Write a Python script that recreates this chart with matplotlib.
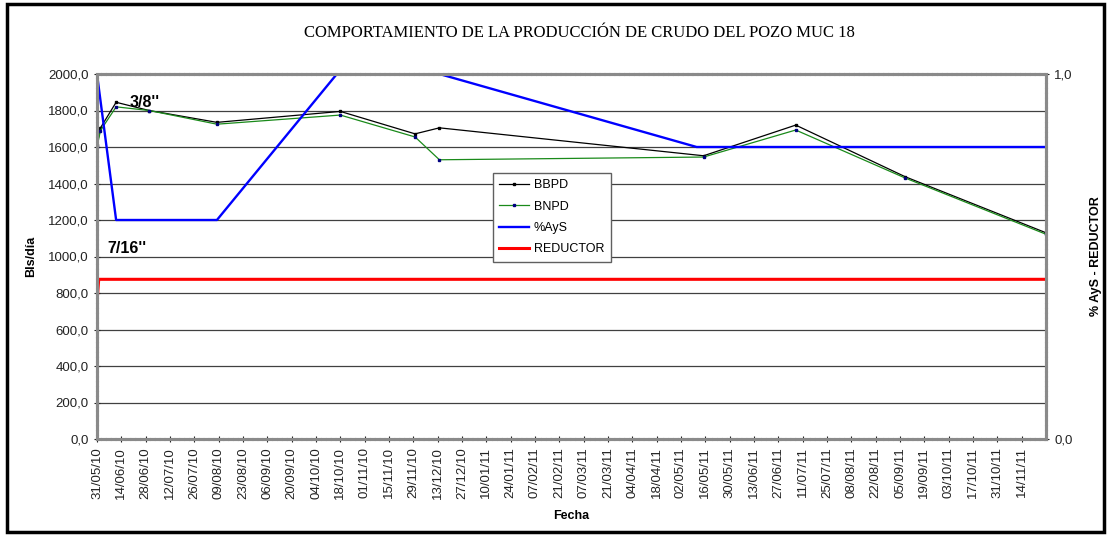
import matplotlib
matplotlib.use("Agg")
import matplotlib.pyplot as plt
import matplotlib.dates as mdates
from matplotlib.patches import Rectangle
from matplotlib.ticker import FuncFormatter
import pandas as pd

plt.rcParams['font.family'] = ['Liberation Sans', 'DejaVu Sans']

# production data (Bls/dia)
prod_dates = ['2010-05-31', '2010-06-02', '2010-06-11', '2010-06-30', '2010-08-08',
              '2010-10-18', '2010-11-30', '2010-12-14', '2011-05-15', '2011-07-07',
              '2011-09-08', '2011-11-28']
bbpd = [1610, 1705, 1845, 1800, 1735, 1795, 1672, 1705, 1552, 1720, 1437, 1130]
bnpd = [1600, 1690, 1820, 1800, 1725, 1775, 1655, 1530, 1545, 1693, 1430, 1122]

# %AyS (right axis)
ays_dates = ['2010-05-31', '2010-06-11', '2010-08-08', '2010-10-16', '2010-12-14',
             '2011-05-11', '2011-11-28']
ays = [1.0, 0.6, 0.6, 1.0, 1.0, 0.8, 0.8]

# reductor (inches, right axis)
red_dates = ['2010-05-31', '2010-06-01', '2011-11-28']
reductor = [0.375, 0.4375, 0.4375]

prod_dates = pd.to_datetime(prod_dates)
ays_dates = pd.to_datetime(ays_dates)
red_dates = pd.to_datetime(red_dates)
tick_dates = pd.date_range('2010-05-31', '2011-11-14', freq='14D')

fig = plt.figure(figsize=(11.1, 5.36), dpi=100)
W, H = 1110, 536
ax = fig.add_axes([97 / W, (H - 439) / H, (1046 - 97) / W, (439 - 74) / H])
ax2 = ax.twinx()

# border around the whole chart
fig.patches.append(Rectangle((7 / W, 4 / H), (1104 - 7) / W, (532 - 4) / H,
                             transform=fig.transFigure, fill=False,
                             edgecolor='black', linewidth=2.5))

for y in range(200, 2001, 200):
    ax.axhline(y, color='#404040', lw=0.9, zorder=0)

l1, = ax.plot(prod_dates, bbpd, color='black', lw=0.9, marker='s', ms=1.8,
              mfc='black', mec='black', label='BBPD')
l2, = ax.plot(prod_dates, bnpd, color='#1a8a1a', lw=0.9, marker='s', ms=1.8,
              mfc='#000080', mec='#000080', label='BNPD')
l3, = ax2.plot(ays_dates, ays, color='#0000ff', lw=1.7, label='%AyS')
l4, = ax2.plot(red_dates, reductor, color='#ff0000', lw=2.2, label='REDUCTOR')

ax.set_xlim(pd.Timestamp('2010-05-31'), pd.Timestamp('2011-11-28'))
ax.set_ylim(0, 2000)
ax2.set_ylim(0, 1)

ax.set_yticks(range(0, 2001, 200))
ax.yaxis.set_major_formatter(FuncFormatter(lambda v, p: f'{v:.1f}'.replace('.', ',')))
ax2.set_yticks([0, 1])
ax2.yaxis.set_major_formatter(FuncFormatter(lambda v, p: f'{v:.1f}'.replace('.', ',')))

ax.set_xticks(tick_dates)
ax.xaxis.set_major_formatter(mdates.DateFormatter('%d/%m/%y'))
ax.tick_params(axis='x', rotation=90, labelsize=9.5, direction='inout', length=5,
               colors='#222222')
ax.tick_params(axis='y', labelsize=9.5, direction='inout', length=5, colors='#222222')
ax2.tick_params(axis='y', labelsize=9.5, direction='inout', length=5, colors='#222222')

for a in (ax, ax2):
    for s in a.spines.values():
        s.set_color('#8a8a8a')
        s.set_linewidth(2.2)
        s.set_linestyle((0, (1, 0.6)))

ax.set_ylabel('Bls/día', fontsize=9, fontweight='bold', labelpad=8)
ax2.set_ylabel('% AyS - REDUCTOR', fontsize=9, fontweight='bold', labelpad=12)
ax.set_xlabel('Fecha', fontsize=9, fontweight='bold', labelpad=8)

fig.text(579 / W, 1 - 33 / H, 'COMPORTAMIENTO DE LA PRODUCCIÓN DE CRUDO DEL POZO MUC 18',
         family='Liberation Serif', fontsize=12, ha='center', va='center')

ax.text(pd.Timestamp('2010-06-19'), 1845, "3/8''", fontsize=11.5, fontweight='bold',
        va='center', ha='left')
ax.text(pd.Timestamp('2010-06-06'), 1045, "7/16''", fontsize=11.5, fontweight='bold',
        va='center', ha='left')

leg = ax2.legend(handles=[l1, l2, l3, l4], loc='upper left',
                 bbox_to_anchor=(0.417, 0.729), fontsize=9, fancybox=False,
                 framealpha=1, edgecolor='#606060', handlelength=2.4,
                 handletextpad=0.4, borderaxespad=0, labelspacing=0.75,
                 borderpad=0.5)
leg.get_frame().set_linewidth(1.0)

fig.savefig('out.png', dpi=100)
